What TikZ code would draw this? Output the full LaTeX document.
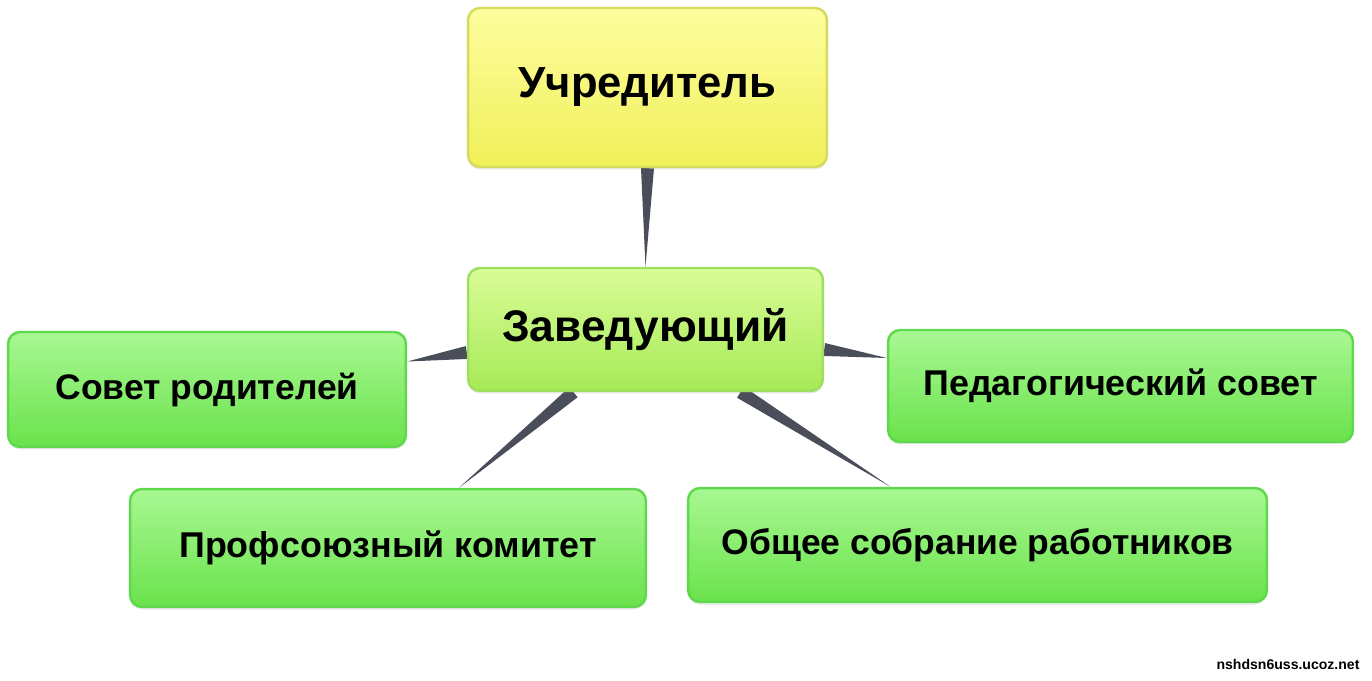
\documentclass[tikz,border=0pt]{standalone}
\usepackage{fontspec}
\setmainfont{Liberation Sans}
\usetikzlibrary{calc,backgrounds,shadows}

\definecolor{linkgray}{HTML}{4A4E5A}
\definecolor{founderline}{HTML}{D6DA5C}
\definecolor{founderlight}{HTML}{FDFD9E}
\definecolor{founderdark}{HTML}{F0F05A}
\definecolor{headline}{HTML}{A0DE62}
\definecolor{headlight}{HTML}{DAFC98}
\definecolor{headdark}{HTML}{A6EA56}
\definecolor{unitline}{HTML}{60D84E}
\definecolor{unitlight}{HTML}{A8F892}
\definecolor{unitmid}{HTML}{86EC68}
\definecolor{unitdark}{HTML}{6AE24C}

\tikzset{
    box/.style={rectangle, rounded corners=0.24cm, line width=1.4pt, font=\bfseries,
        text=black, align=center, inner sep=0pt,
        drop shadow={shadow xshift=0pt, shadow yshift=-0.05cm, opacity=0.18}},
    founderbox/.style={box, draw=founderline, top color=founderlight, bottom color=founderdark},
    headbox/.style={box, draw=headline, top color=headlight, bottom color=headdark},
    unitbox/.style={box, draw=unitline, top color=unitlight, middle color=unitmid, bottom color=unitdark},
    taper/.style={fill=linkgray}
}

\newcommand{\taperlink}[2]{\fill[taper] ($(#1)!0.13cm!90:(#2)$) -- ($(#1)!0.13cm!-90:(#2)$) -- (#2) -- cycle;}

\begin{document}
\begin{tikzpicture}[x=0.02cm, y=-0.02cm]
            \useasboundingbox (0,0) rectangle (1372,680);

            \node[founderbox, minimum width=7.18cm, minimum height=3.18cm,
                font=\bfseries\fontsize{24.8}{29}\selectfont] (uch) at (647.5,87.5) {Учредитель};
            \node[headbox, minimum width=7.1cm, minimum height=2.46cm,
                font=\bfseries\fontsize{25.2}{29}\selectfont] (zav) at (645.5,329.5) {Заведующий};

            \begin{scope}[
                    every node/.style={unitbox}
                ]
                \node[minimum width=7.96cm, minimum height=2.3cm,
                    font=\bfseries\fontsize{20.2}{24}\selectfont] (sov) at (207,389.5) {Совет родителей};
                \node[minimum width=9.3cm, minimum height=2.24cm,
                    font=\bfseries\fontsize{20.4}{24}\selectfont] (ped) at (1120.5,386) {Педагогический совет};
                \node[minimum width=10.32cm, minimum height=2.36cm,
                    font=\bfseries\fontsize{20.4}{25}\selectfont] (prof) at (388,548) {Профсоюзный комитет};
                \node[minimum width=11.58cm, minimum height=2.28cm,
                    font=\bfseries\fontsize{20.2}{24}\selectfont] (obsh) at (977.5,545) {Общее собрание работников};
            \end{scope}

            \node[font=\bfseries\fontsize{8}{9}\selectfont] (site) at (1288,664) {nshdsn6uss.ucoz.net};

            \coordinate (zavL) at ($(zav.west)+(0,23)$);
            \coordinate (zavR) at ($(zav.east)+(0,20)$);
            \coordinate (zavBL) at ($(zav.south)+(-72,0)$);
            \coordinate (zavBR) at ($(zav.south)+(95,0)$);
            \coordinate (sovR) at ($(sov.east)+(0,-28)$);
            \coordinate (pedL) at ($(ped.west)+(0,-28)$);
            \coordinate (profT) at ($(prof.north)+(71,0)$);
            \coordinate (obshT) at ($(obsh.north)+(-87,0)$);

            \begin{scope}[on background layer]
                \taperlink{uch.south}{zav.north}
                \taperlink{zavL}{sovR}
                \taperlink{zavR}{pedL}
                \taperlink{zavBL}{profT}
                \taperlink{zavBR}{obshT}
            \end{scope}

        \end{tikzpicture}
\end{document}
